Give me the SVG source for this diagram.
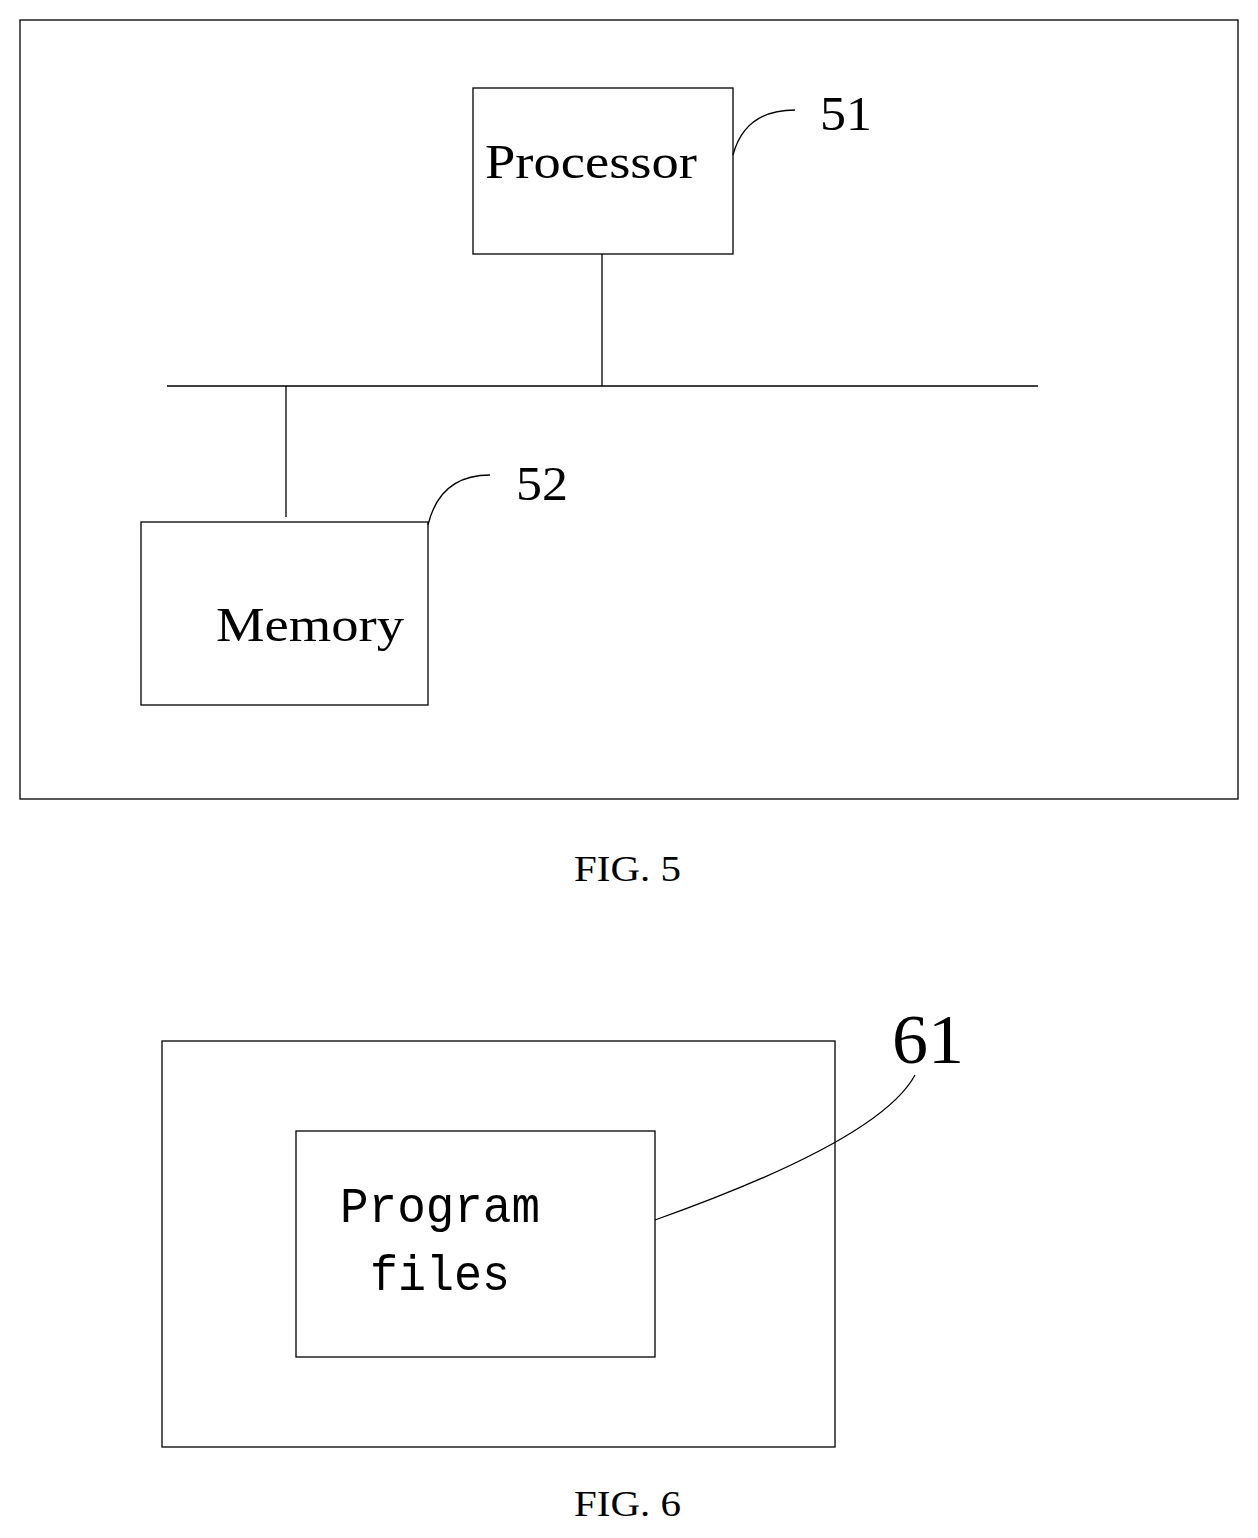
<svg xmlns="http://www.w3.org/2000/svg" width="1258" height="1538" viewBox="0 0 1258 1538">
<style>
.b{fill:none;stroke:#000;stroke-width:1.3}
.t{font-family:"Liberation Serif",serif;fill:#000}
.m{font-family:"Liberation Mono",monospace;fill:#000}
</style>
<rect width="1258" height="1538" fill="#fff"/>
<g id="fig5frame"><rect class="b" x="20" y="20" width="1218" height="779"/></g>
<g id="processor"><rect class="b" x="473" y="88" width="260" height="166"/><text class="t" x="485" y="178" font-size="48" textLength="212" lengthAdjust="spacingAndGlyphs">Processor</text></g>
<g id="memory"><rect class="b" x="141" y="522" width="287" height="183"/><text class="t" x="216" y="641" font-size="48" textLength="188" lengthAdjust="spacingAndGlyphs">Memory</text></g>
<g id="connectors">
<line class="b" x1="602" y1="254" x2="602" y2="386"/>
<line class="b" x1="167" y1="386" x2="1038" y2="386"/>
<line class="b" x1="286" y1="386" x2="286" y2="517"/>
<path class="b" d="M733 155 Q745 110 795 110"/>
<path class="b" d="M428 525 Q440 475 490 475"/>
<path class="b" d="M655 1220 Q880 1140 915 1075"/>
</g>
<text class="t" x="820" y="130" font-size="48" textLength="52" lengthAdjust="spacingAndGlyphs">51</text>
<text class="t" x="516" y="500" font-size="48" textLength="52" lengthAdjust="spacingAndGlyphs">52</text>
<text class="t" x="574" y="881" font-size="36" textLength="107" lengthAdjust="spacingAndGlyphs">FIG. 5</text>
<g id="fig6frame"><rect class="b" x="162" y="1041" width="673" height="406"/></g>
<g id="programfiles"><rect class="b" x="296" y="1131" width="359" height="226"/><text class="m" x="340" y="1222" font-size="50" textLength="200" lengthAdjust="spacingAndGlyphs">Program</text><text class="m" x="370" y="1290" font-size="50" textLength="140" lengthAdjust="spacingAndGlyphs">files</text></g>
<text class="t" x="892" y="1063" font-size="70" textLength="72" lengthAdjust="spacingAndGlyphs">61</text>
<text class="t" x="574" y="1516" font-size="36" textLength="107" lengthAdjust="spacingAndGlyphs">FIG. 6</text>
</svg>
